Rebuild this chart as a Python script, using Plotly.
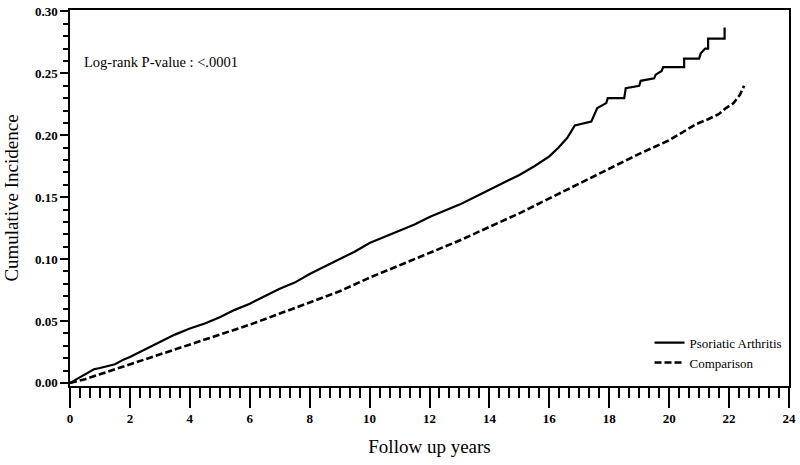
import plotly.graph_objects as go

# Psoriatic Arthritis cumulative incidence (solid step curve)
psa_years = [0, 0.3, 0.6, 0.8, 1.0, 1.5, 1.8, 2.0, 2.5, 3.0, 3.5, 4.0, 4.5, 5.0, 5.5, 6.0,
             6.5, 7.0, 7.5, 8.0, 8.5, 9.0, 9.5, 10.0, 10.5, 11.0, 11.5, 12.0, 12.5, 13.0,
             13.5, 14.0, 14.5, 15.0, 15.5, 16.0, 16.3, 16.6, 16.85, 17.4, 17.6, 17.9, 17.95,
             18.5, 18.55, 19.0, 19.05, 19.5, 19.55, 19.75, 19.8, 20.5, 20.5, 21.0, 21.05,
             21.2, 21.3, 21.3, 21.85, 21.85]
psa_ci = [0, 0.004, 0.008, 0.011, 0.012, 0.015, 0.019, 0.021, 0.027, 0.033, 0.039, 0.044,
          0.048, 0.053, 0.059, 0.064, 0.070, 0.076, 0.081, 0.088, 0.094, 0.100, 0.106, 0.113,
          0.118, 0.123, 0.128, 0.134, 0.139, 0.144, 0.150, 0.156, 0.162, 0.168, 0.175, 0.183,
          0.190, 0.198, 0.208, 0.211, 0.222, 0.226, 0.230, 0.230, 0.238, 0.240, 0.244, 0.246,
          0.249, 0.252, 0.255, 0.255, 0.262, 0.262, 0.266, 0.270, 0.270, 0.278, 0.278, 0.287]

# Comparison cohort cumulative incidence (dashed curve)
cmp_years = [0, 0.5, 1, 2, 3, 4, 5, 6, 7, 8, 9, 10, 11, 12, 13, 14, 15, 16, 17, 18, 19, 20,
             20.5, 20.9, 21.3, 21.65, 21.9, 22.15, 22.37, 22.5]
cmp_ci = [0, 0.003, 0.007, 0.015, 0.023, 0.031, 0.039, 0.047, 0.056, 0.065, 0.074, 0.085,
          0.095, 0.105, 0.115, 0.126, 0.137, 0.149, 0.161, 0.173, 0.185, 0.196, 0.203, 0.209,
          0.213, 0.217, 0.222, 0.226, 0.233, 0.240]

x_ticks = list(range(0, 25, 2))
y_ticks = [0.00, 0.05, 0.10, 0.15, 0.20, 0.25, 0.30]

SERIF = "Liberation Serif, Times New Roman, serif"

fig = go.Figure()
fig.add_trace(go.Scatter(x=psa_years, y=psa_ci, mode="lines", name="Psoriatic Arthritis",
                         line=dict(color="black", width=2.2)))
fig.add_trace(go.Scatter(x=cmp_years, y=cmp_ci, mode="lines", name="Comparison",
                         line=dict(color="black", width=2.6, dash="7px,3px")))

fig.update_layout(
    width=800, height=465,
    margin=dict(l=70, r=7, t=4, b=79),
    paper_bgcolor="white", plot_bgcolor="white",
    font=dict(family=SERIF, color="black"),
    showlegend=True,
    legend=dict(x=0.806, y=0.155, xanchor="left", yanchor="top",
                bgcolor="rgba(0,0,0,0)", font=dict(size=13, family=SERIF),
                tracegroupgap=0, itemwidth=30),
    annotations=[dict(x=0.017, y=0.862, xref="paper", yref="paper", xanchor="left",
                      yanchor="middle", showarrow=False,
                      text="Log-rank P-value : <.0001",
                      font=dict(size=14.5, family=SERIF))],
)

fig.update_xaxes(
    range=[0, 24], tickvals=x_ticks, ticktext=[str(v) for v in x_ticks],
    ticks="outside", ticklen=20, tickwidth=1.5, tickcolor="black",
    minor=dict(dtick=1/3, tick0=0, ticks="outside", ticklen=10, tickwidth=1.5, tickcolor="black"),
    showline=True, linecolor="black", linewidth=1.5, mirror=True,
    showgrid=False, zeroline=False, ticklabeloverflow="allow",
    tickfont=dict(size=13, family=SERIF, weight="bold"),
    title=dict(text="Follow up years", font=dict(size=19, family=SERIF), standoff=14),
)
fig.update_yaxes(
    range=[-0.0025, 0.3012], tickvals=y_ticks, ticktext=[f"{v:.2f}" for v in y_ticks],
    ticks="outside", ticklen=8, tickwidth=1.5, tickcolor="black",
    minor=dict(dtick=0.01, tick0=0, ticks="outside", ticklen=5, tickwidth=1.5, tickcolor="black"),
    showline=True, linecolor="black", linewidth=1.5, mirror=True,
    showgrid=False, zeroline=False, ticklabeloverflow="allow",
    tickfont=dict(size=13, family=SERIF, weight="bold"),
    title=dict(text="Cumulative Incidence", font=dict(size=19, family=SERIF), standoff=11),
)

fig.write_html("out.html", config={"displayModeBar": False},
               post_script="document.body.style.margin='0px';document.body.style.overflow='hidden';")
